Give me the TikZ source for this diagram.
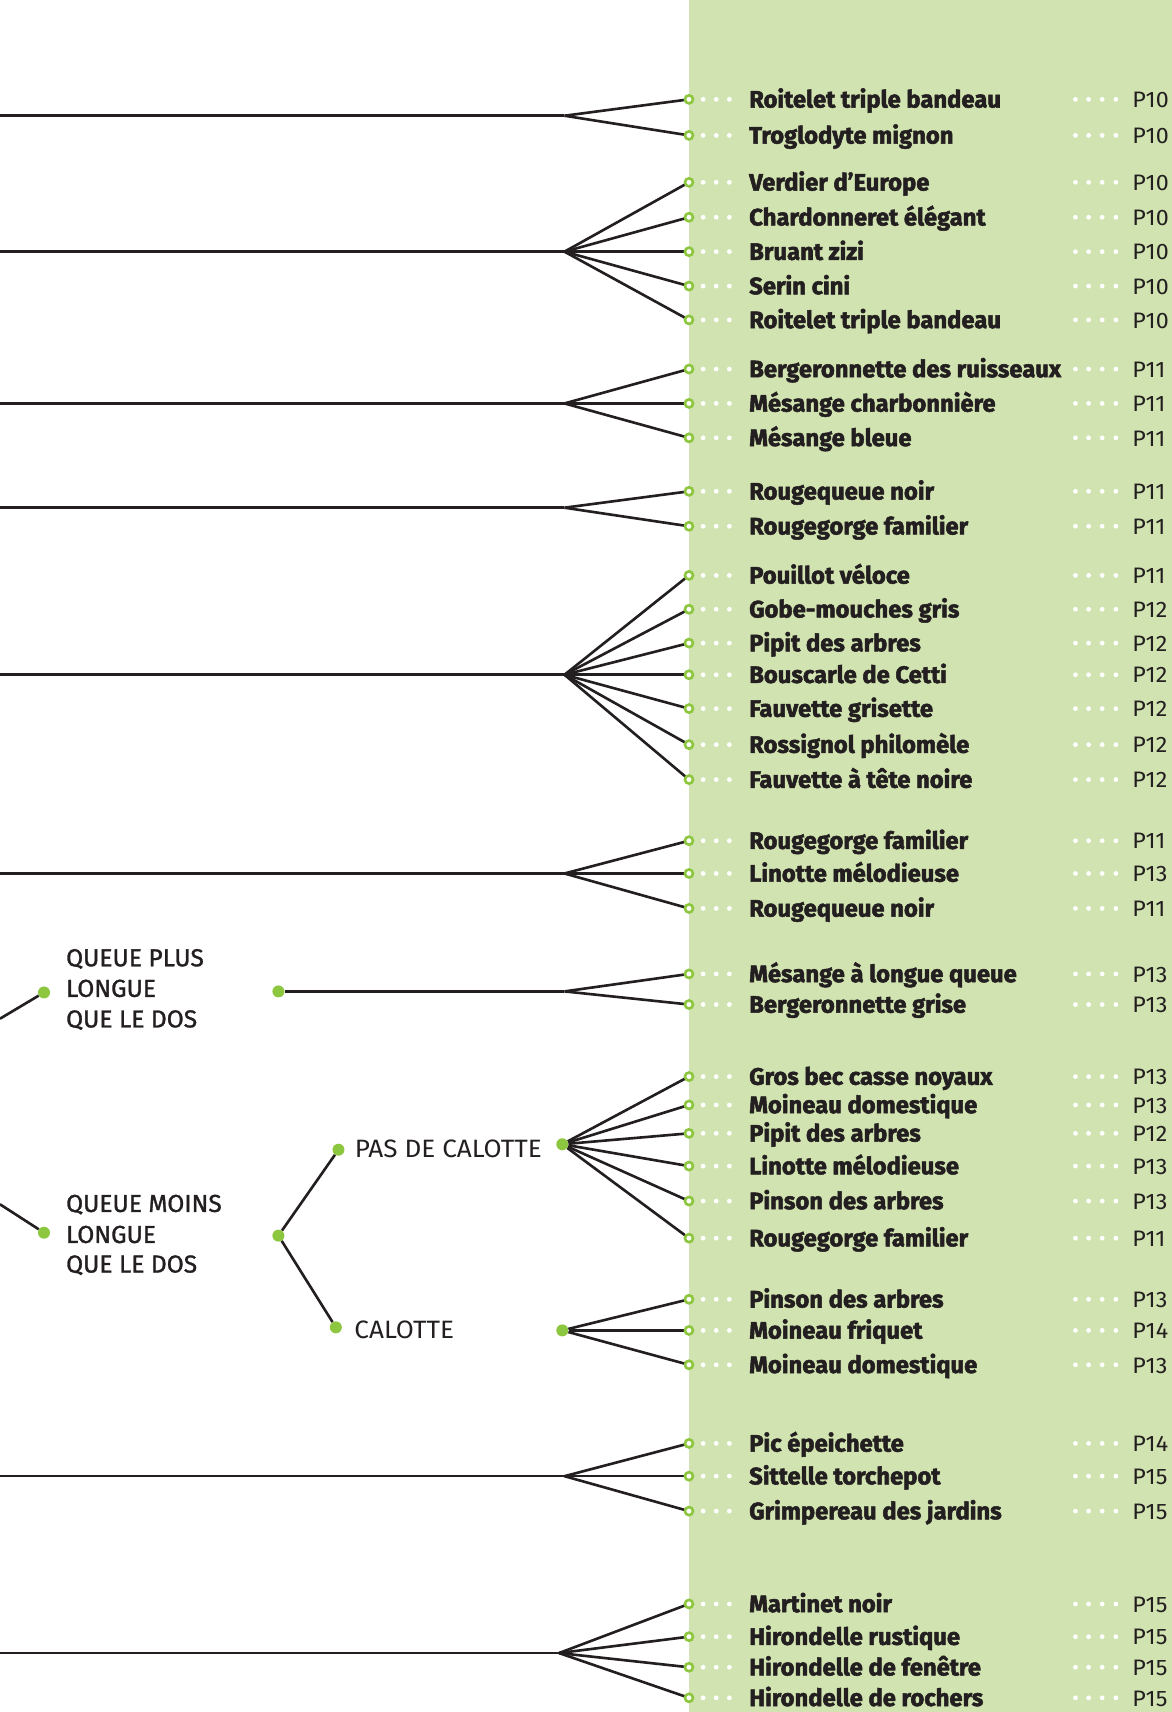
\documentclass[tikz,border=0pt]{standalone}
\usepackage{fontspec}
\setmainfont{Fira Sans}
\newfontfamily\birdfont{Fira Sans}[FakeBold=2.2]
\newfontfamily\medfont{Fira Sans}[FakeBold=1.2]
\newfontfamily\thinfont{Fira Sans}[FakeStretch=1.04]
\newfontfamily\pgfontx{Fira Sans}[FakeStretch=1.04]
\definecolor{panel}{HTML}{D1E3B0}
\definecolor{dotgreen}{HTML}{8DC63F}
\definecolor{ink}{HTML}{231F20}
\pgfdeclarelayer{back}
\pgfdeclarelayer{links}
\pgfsetlayers{back,links,main}
\tikzset{
  conn/.style={draw=ink, line width=2.4pt},
  ring/.style={circle, draw=dotgreen, fill=white, line width=2.4pt, inner sep=0pt, minimum size=7.4pt},
  gdot/.style={circle, fill=dotgreen, inner sep=0pt, minimum size=11pt},
  bird/.style={anchor=base west, inner sep=0pt, text=ink, font=\birdfont\bfseries\fontsize{21.8}{26}\selectfont},
  pg/.style={anchor=base west, inner sep=0pt, text=ink, font=\pgfontx\fontsize{20.5}{24}\selectfont},
  lab/.style={anchor=base west, inner sep=0pt, text=ink, font=\medfont\fontsize{22.5}{26}\selectfont},
  lab2/.style={anchor=base west, inner sep=0pt, text=ink, font=\thinfont\fontsize{23}{27}\selectfont}
}
\newcommand\birdrow[5]{%
  \node[ring] (c#1) at (631,#3) {};
  \begin{pgfonlayer}{links}\draw[conn] (#2) -- (c#1.center);\end{pgfonlayer}
  \node[bird] (n#1) at (686,#3+7.5) {#4};
  \node[pg] (p#1) at (1037,#3+7.5) {#5};
  \foreach \dx in {644,656,668,985,997,1009.5,1022} {\fill[white] (\dx,#3) circle (2.2pt);}
}
\begin{document}
\begin{tikzpicture}[x=1pt,y=-1pt]
\useasboundingbox (0,0) rectangle (1073,1568);
\begin{pgfonlayer}{back}
\fill[panel] (631,0) rectangle (1073,1568);
\end{pgfonlayer}

% group 1
\coordinate (s1) at (0,106); \coordinate (f1) at (517,106);
\draw[conn] (s1) -- (f1);
\birdrow{1a}{f1}{91}{Roitelet triple bandeau}{P10}
\birdrow{1b}{f1}{124}{Troglodyte mignon}{P10}

% group 2
\coordinate (s2) at (0,230.5); \coordinate (f2) at (517,230.5);
\draw[conn] (s2) -- (f2);
\birdrow{2a}{f2}{167}{Verdier d’Europe}{P10}
\birdrow{2b}{f2}{199}{Chardonneret élégant}{P10}
\birdrow{2c}{f2}{230.5}{Bruant zizi}{P10}
\birdrow{2d}{f2}{262}{Serin cini}{P10}
\birdrow{2e}{f2}{293}{Roitelet triple bandeau}{P10}

% group 3
\coordinate (s3) at (0,369.5); \coordinate (f3) at (517,369.5);
\draw[conn] (s3) -- (f3);
\birdrow{3a}{f3}{338}{Bergeronnette des ruisseaux}{P11}
\birdrow{3b}{f3}{369.5}{Mésange charbonnière}{P11}
\birdrow{3c}{f3}{401}{Mésange bleue}{P11}

% group 4
\coordinate (s4) at (0,465); \coordinate (f4) at (517,465);
\draw[conn] (s4) -- (f4);
\birdrow{4a}{f4}{450}{Rougequeue noir}{P11}
\birdrow{4b}{f4}{482}{Rougegorge familier}{P11}

% group 5
\coordinate (s5) at (0,618); \coordinate (f5) at (517,618);
\draw[conn] (s5) -- (f5);
\birdrow{5a}{f5}{527}{Pouillot véloce}{P11}
\birdrow{5b}{f5}{558}{Gobe-mouches gris}{P12}
\birdrow{5c}{f5}{589}{Pipit des arbres}{P12}
\birdrow{5d}{f5}{618}{Bouscarle de Cetti}{P12}
\birdrow{5e}{f5}{649}{Fauvette grisette}{P12}
\birdrow{5f}{f5}{682}{Rossignol philomèle}{P12}
\birdrow{5g}{f5}{714}{Fauvette à tête noire}{P12}

% group 6
\coordinate (s6) at (0,800); \coordinate (f6) at (517,800);
\draw[conn] (s6) -- (f6);
\birdrow{6a}{f6}{770}{Rougegorge familier}{P11}
\birdrow{6b}{f6}{800}{Linotte mélodieuse}{P13}
\birdrow{6c}{f6}{832}{Rougequeue noir}{P11}

% left labels
\coordinate (s7) at (0,933);
\node[gdot] (q1) at (40.3,909) {};
\draw[conn] (s7) -- (q1);
\node[lab] (q1a) at (60.4,885) {QUEUE PLUS};
\node[lab] (q1b) at (60.4,913) {LONGUE};
\node[lab] (q1c) at (60.4,941) {QUE LE DOS};

\coordinate (s8) at (0,1103);
\node[gdot] (q2) at (40.3,1129) {};
\draw[conn] (s8) -- (q2);
\node[lab] (q2a) at (60.4,1110) {QUEUE MOINS};
\node[lab] (q2b) at (60.4,1138.4) {LONGUE};
\node[lab] (q2c) at (60.4,1165.5) {QUE LE DOS};

% group 7
\node[gdot] (d7) at (255,908) {};
\coordinate (f7) at (517,908);
\draw[conn] (d7) -- (f7);
\birdrow{7a}{f7}{892}{Mésange à longue queue}{P13}
\birdrow{7b}{f7}{920}{Bergeronnette grise}{P13}

% calotte branch
\node[gdot] (dm) at (255,1131.7) {};
\node[gdot] (dp) at (310,1053) {};
\node[gdot] (dc) at (307.6,1215.7) {};
\draw[conn] (dm) -- (dp);
\draw[conn] (dm) -- (dc);
\node[lab2] (tp) at (324.8,1060.5) {PAS DE CALOTTE};
\node[lab2] (tc) at (324.4,1226) {CALOTTE};

% group 8
\node[gdot] (g8) at (515,1048) {};
\birdrow{8a}{g8}{986}{Gros bec casse noyaux}{P13}
\birdrow{8b}{g8}{1012}{Moineau domestique}{P13}
\birdrow{8c}{g8}{1038}{Pipit des arbres}{P12}
\birdrow{8d}{g8}{1068}{Linotte mélodieuse}{P13}
\birdrow{8e}{g8}{1100}{Pinson des arbres}{P13}
\birdrow{8f}{g8}{1134}{Rougegorge familier}{P11}

% group 9
\node[gdot] (g9) at (515,1218.5) {};
\birdrow{9a}{g9}{1190}{Pinson des arbres}{P13}
\birdrow{9b}{g9}{1218.5}{Moineau friquet}{P14}
\birdrow{9c}{g9}{1250}{Moineau domestique}{P13}

% group 10
\coordinate (s10) at (0,1352); \coordinate (f10) at (517,1352);
\draw[conn] (s10) -- (f10);
\birdrow{10a}{f10}{1322}{Pic épeichette}{P14}
\birdrow{10b}{f10}{1352}{Sittelle torchepot}{P15}
\birdrow{10c}{f10}{1384}{Grimpereau des jardins}{P15}

% group 11
\coordinate (s11) at (0,1514); \coordinate (f11) at (512,1514);
\draw[conn] (s11) -- (f11);
\birdrow{11a}{f11}{1469}{Martinet noir}{P15}
\birdrow{11b}{f11}{1499}{Hirondelle rustique}{P15}
\birdrow{11c}{f11}{1527}{Hirondelle de fenêtre}{P15}
\birdrow{11d}{f11}{1555}{Hirondelle de rochers}{P15}
\end{tikzpicture}
\end{document}
